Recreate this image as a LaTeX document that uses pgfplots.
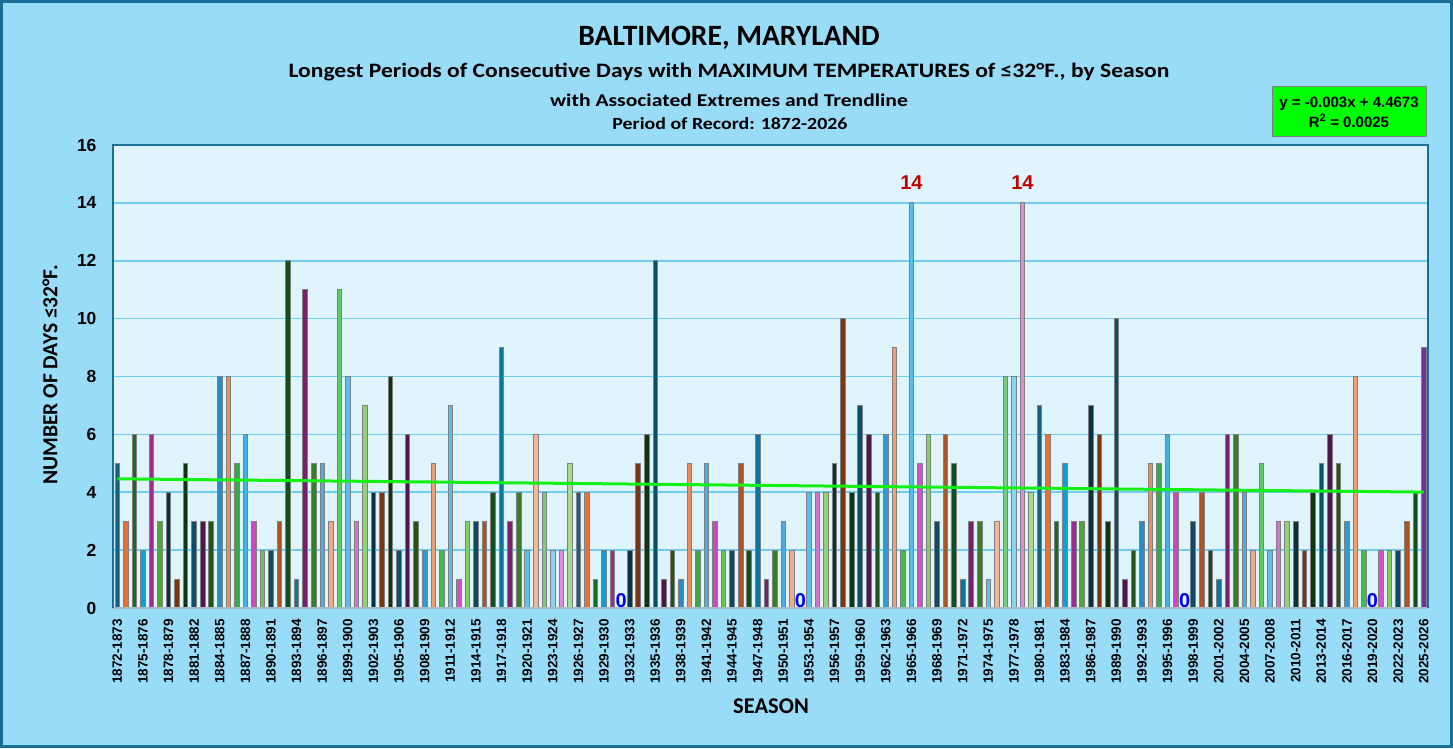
\documentclass[border=0pt]{standalone}
\usepackage{pgfplots}
\pgfplotsset{compat=1.18}
\usepackage{fontspec}
\setmainfont{Carlito}
\newfontfamily\arialb{Liberation Sans}
\newfontfamily\subA{Carlito}[FakeStretch=1.15]
\newfontfamily\subB{Carlito}[FakeStretch=1.2]
\newfontfamily\subC{Carlito}[FakeStretch=1.17]
\definecolor{outerbg}{HTML}{99DCF7}
\definecolor{plotbg}{HTML}{DFF4FC}
\definecolor{gridc}{HTML}{6DCDF2}
\definecolor{darkline}{HTML}{1A6E98}
\definecolor{botline}{HTML}{A9BCC6}
\definecolor{barline}{HTML}{808080}
\definecolor{trend}{HTML}{14F014}
\definecolor{eqgreen}{HTML}{00FF00}
\definecolor{lblred}{HTML}{C00000}
\definecolor{lastpurple}{HTML}{7030A0}
% base accents
\definecolor{a1}{HTML}{156082}\definecolor{a2}{HTML}{E97132}\definecolor{a3}{HTML}{196B24}
\definecolor{a4}{HTML}{0F9ED5}\definecolor{a5}{HTML}{A02B93}\definecolor{a6}{HTML}{4EA72E}
% darker 50
\definecolor{k1}{HTML}{0B3041}\definecolor{k2}{HTML}{7B3610}\definecolor{k3}{HTML}{0D3512}
\definecolor{k4}{HTML}{084F6A}\definecolor{k5}{HTML}{501549}\definecolor{k6}{HTML}{275317}
% darker 25
\definecolor{m1}{HTML}{104862}\definecolor{m2}{HTML}{AF5525}\definecolor{m3}{HTML}{134F1B}
\definecolor{m4}{HTML}{0B76A0}\definecolor{m5}{HTML}{78206E}\definecolor{m6}{HTML}{3A7D22}
% lighter variants
\definecolor{p1}{HTML}{2A8CC4}\definecolor{p2}{HTML}{EE8D55}\definecolor{p3}{HTML}{3AA846}
\definecolor{p4}{HTML}{3DB3E8}\definecolor{p5}{HTML}{C84BBE}\definecolor{p6}{HTML}{71C24B}
\definecolor{q1}{HTML}{4DABE2}\definecolor{q2}{HTML}{F2A987}\definecolor{q3}{HTML}{5FCB63}
\definecolor{q4}{HTML}{5DBDEB}\definecolor{q5}{HTML}{D573CC}\definecolor{q6}{HTML}{94D174}
\definecolor{r1}{HTML}{2F9BD3}\definecolor{r2}{HTML}{F0A070}\definecolor{r3}{HTML}{3EBF48}
\definecolor{r4}{HTML}{50C0F0}\definecolor{r5}{HTML}{D052C4}\definecolor{r6}{HTML}{84CF64}
\definecolor{s1}{HTML}{62C0EE}\definecolor{s2}{HTML}{F5B598}\definecolor{s3}{HTML}{78CF7A}
\definecolor{s4}{HTML}{88D4F2}\definecolor{s5}{HTML}{E08BD8}\definecolor{s6}{HTML}{A8DC8C}
\pgfplotsset{
  B/.style={ybar, bar shift=0pt, bar width=4.6pt, draw=barline, line width=0.8pt},
  hi/.style={nodes near coords={14}, every node near coord/.append style={font=\arialb\bfseries\fontsize{20}{20}\selectfont, text=lblred, anchor=south, yshift=10pt}},
  zero/.style={nodes near coords={0}, every node near coord/.append style={font=\arialb\bfseries\fontsize{20}{20}\selectfont, text=blue, anchor=south, yshift=-3pt}},
}
\begin{document}
\begin{tikzpicture}
\fill[outerbg] (0pt,0pt) rectangle (1453pt,748pt);
\draw[darkline, line width=3pt] (1.5pt,1.5pt) rectangle (1451.5pt,746.5pt);
\begin{axis}[
  at={(113pt,140pt)}, anchor=south west, scale only axis,
  width=1315pt, height=463pt,
  xmin=-0.5, xmax=153.5, ymin=0, ymax=16,
  ytick={0,2,...,16}, xtick={0,3,...,153},
  xticklabels={1872-1873,1875-1876,1878-1879,1881-1882,1884-1885,1887-1888,1890-1891,1893-1894,1896-1897,1899-1900,1902-1903,1905-1906,1908-1909,1911-1912,1914-1915,1917-1918,1920-1921,1923-1924,1926-1927,1929-1930,1932-1933,1935-1936,1938-1939,1941-1942,1944-1945,1947-1948,1950-1951,1953-1954,1956-1957,1959-1960,1962-1963,1965-1966,1968-1969,1971-1972,1974-1975,1977-1978,1980-1981,1983-1984,1986-1987,1989-1990,1992-1993,1995-1996,1998-1999,2001-2002,2004-2005,2007-2008,2010-2011,2013-2014,2016-2017,2019-2020,2022-2023,2025-2026},
  major tick length=0pt,
  ymajorgrids, grid style={draw=gridc, line width=1.6pt},
  axis line style={draw=none},
  axis background/.style={fill=plotbg},
  /pgf/number format/assume math mode=true,
  yticklabel style={font=\arialb\bfseries\fontsize{17.5}{17.5}\selectfont, xshift=-13pt},
  xticklabel style={font=\arialb\bfseries\fontsize{13.5}{13.5}\selectfont, rotate=90, anchor=east, xshift=-7.5pt},
  clip=false,
  cycle list={
    {fill=a1},{fill=a2},{fill=a3},{fill=a4},{fill=a5},{fill=a6},
    {fill=k1},{fill=k2},{fill=k3},{fill=k4},{fill=k5},{fill=k6},
    {fill=p1},{fill=p2},{fill=p3},{fill=p4},{fill=p5},{fill=p6},
    {fill=m1},{fill=m2},{fill=m3},{fill=m4},{fill=m5},{fill=m6},
    {fill=q1},{fill=q2},{fill=q3},{fill=q4},{fill=q5},{fill=q6},
    {fill=k1},{fill=k2},{fill=k3},{fill=k4},{fill=k5},{fill=k6},
    {fill=r1},{fill=r2},{fill=r3},{fill=r4},{fill=r5},{fill=r6},
    {fill=m1},{fill=m2},{fill=m3},{fill=m4},{fill=m5},{fill=m6},
    {fill=s1},{fill=s2},{fill=s3},{fill=s4},{fill=s5},{fill=s6}},
]
\addplot+[B] coordinates {(0,5)};
\addplot+[B] coordinates {(1,3)};
\addplot+[B] coordinates {(2,6)};
\addplot+[B] coordinates {(3,2)};
\addplot+[B] coordinates {(4,6)};
\addplot+[B] coordinates {(5,3)};
\addplot+[B] coordinates {(6,4)};
\addplot+[B] coordinates {(7,1)};
\addplot+[B] coordinates {(8,5)};
\addplot+[B] coordinates {(9,3)};
\addplot+[B] coordinates {(10,3)};
\addplot+[B] coordinates {(11,3)};
\addplot+[B] coordinates {(12,8)};
\addplot+[B] coordinates {(13,8)};
\addplot+[B] coordinates {(14,5)};
\addplot+[B] coordinates {(15,6)};
\addplot+[B] coordinates {(16,3)};
\addplot+[B] coordinates {(17,2)};
\addplot+[B] coordinates {(18,2)};
\addplot+[B] coordinates {(19,3)};
\addplot+[B] coordinates {(20,12)};
\addplot+[B] coordinates {(21,1)};
\addplot+[B] coordinates {(22,11)};
\addplot+[B] coordinates {(23,5)};
\addplot+[B] coordinates {(24,5)};
\addplot+[B] coordinates {(25,3)};
\addplot+[B] coordinates {(26,11)};
\addplot+[B] coordinates {(27,8)};
\addplot+[B] coordinates {(28,3)};
\addplot+[B] coordinates {(29,7)};
\addplot+[B] coordinates {(30,4)};
\addplot+[B] coordinates {(31,4)};
\addplot+[B] coordinates {(32,8)};
\addplot+[B] coordinates {(33,2)};
\addplot+[B] coordinates {(34,6)};
\addplot+[B] coordinates {(35,3)};
\addplot+[B] coordinates {(36,2)};
\addplot+[B] coordinates {(37,5)};
\addplot+[B] coordinates {(38,2)};
\addplot+[B] coordinates {(39,7)};
\addplot+[B] coordinates {(40,1)};
\addplot+[B] coordinates {(41,3)};
\addplot+[B] coordinates {(42,3)};
\addplot+[B] coordinates {(43,3)};
\addplot+[B] coordinates {(44,4)};
\addplot+[B] coordinates {(45,9)};
\addplot+[B] coordinates {(46,3)};
\addplot+[B] coordinates {(47,4)};
\addplot+[B] coordinates {(48,2)};
\addplot+[B] coordinates {(49,6)};
\addplot+[B] coordinates {(50,4)};
\addplot+[B] coordinates {(51,2)};
\addplot+[B] coordinates {(52,2)};
\addplot+[B] coordinates {(53,5)};
\addplot+[B] coordinates {(54,4)};
\addplot+[B] coordinates {(55,4)};
\addplot+[B] coordinates {(56,1)};
\addplot+[B] coordinates {(57,2)};
\addplot+[B] coordinates {(58,2)};
\addplot+[B, zero] coordinates {(59,0)};
\addplot+[B] coordinates {(60,2)};
\addplot+[B] coordinates {(61,5)};
\addplot+[B] coordinates {(62,6)};
\addplot+[B] coordinates {(63,12)};
\addplot+[B] coordinates {(64,1)};
\addplot+[B] coordinates {(65,2)};
\addplot+[B] coordinates {(66,1)};
\addplot+[B] coordinates {(67,5)};
\addplot+[B] coordinates {(68,2)};
\addplot+[B] coordinates {(69,5)};
\addplot+[B] coordinates {(70,3)};
\addplot+[B] coordinates {(71,2)};
\addplot+[B] coordinates {(72,2)};
\addplot+[B] coordinates {(73,5)};
\addplot+[B] coordinates {(74,2)};
\addplot+[B] coordinates {(75,6)};
\addplot+[B] coordinates {(76,1)};
\addplot+[B] coordinates {(77,2)};
\addplot+[B] coordinates {(78,3)};
\addplot+[B] coordinates {(79,2)};
\addplot+[B, zero] coordinates {(80,0)};
\addplot+[B] coordinates {(81,4)};
\addplot+[B] coordinates {(82,4)};
\addplot+[B] coordinates {(83,4)};
\addplot+[B] coordinates {(84,5)};
\addplot+[B] coordinates {(85,10)};
\addplot+[B] coordinates {(86,4)};
\addplot+[B] coordinates {(87,7)};
\addplot+[B] coordinates {(88,6)};
\addplot+[B] coordinates {(89,4)};
\addplot+[B] coordinates {(90,6)};
\addplot+[B] coordinates {(91,9)};
\addplot+[B] coordinates {(92,2)};
\addplot+[B, hi] coordinates {(93,14)};
\addplot+[B] coordinates {(94,5)};
\addplot+[B] coordinates {(95,6)};
\addplot+[B] coordinates {(96,3)};
\addplot+[B] coordinates {(97,6)};
\addplot+[B] coordinates {(98,5)};
\addplot+[B] coordinates {(99,1)};
\addplot+[B] coordinates {(100,3)};
\addplot+[B] coordinates {(101,3)};
\addplot+[B] coordinates {(102,1)};
\addplot+[B] coordinates {(103,3)};
\addplot+[B] coordinates {(104,8)};
\addplot+[B] coordinates {(105,8)};
\addplot+[B, hi] coordinates {(106,14)};
\addplot+[B] coordinates {(107,4)};
\addplot+[B] coordinates {(108,7)};
\addplot+[B] coordinates {(109,6)};
\addplot+[B] coordinates {(110,3)};
\addplot+[B] coordinates {(111,5)};
\addplot+[B] coordinates {(112,3)};
\addplot+[B] coordinates {(113,3)};
\addplot+[B] coordinates {(114,7)};
\addplot+[B] coordinates {(115,6)};
\addplot+[B] coordinates {(116,3)};
\addplot+[B] coordinates {(117,10)};
\addplot+[B] coordinates {(118,1)};
\addplot+[B] coordinates {(119,2)};
\addplot+[B] coordinates {(120,3)};
\addplot+[B] coordinates {(121,5)};
\addplot+[B] coordinates {(122,5)};
\addplot+[B] coordinates {(123,6)};
\addplot+[B] coordinates {(124,4)};
\addplot+[B, zero] coordinates {(125,0)};
\addplot+[B] coordinates {(126,3)};
\addplot+[B] coordinates {(127,4)};
\addplot+[B] coordinates {(128,2)};
\addplot+[B] coordinates {(129,1)};
\addplot+[B] coordinates {(130,6)};
\addplot+[B] coordinates {(131,6)};
\addplot+[B] coordinates {(132,4)};
\addplot+[B] coordinates {(133,2)};
\addplot+[B] coordinates {(134,5)};
\addplot+[B] coordinates {(135,2)};
\addplot+[B] coordinates {(136,3)};
\addplot+[B] coordinates {(137,3)};
\addplot+[B] coordinates {(138,3)};
\addplot+[B] coordinates {(139,2)};
\addplot+[B] coordinates {(140,4)};
\addplot+[B] coordinates {(141,5)};
\addplot+[B] coordinates {(142,6)};
\addplot+[B] coordinates {(143,5)};
\addplot+[B] coordinates {(144,3)};
\addplot+[B] coordinates {(145,8)};
\addplot+[B] coordinates {(146,2)};
\addplot+[B, zero] coordinates {(147,0)};
\addplot+[B] coordinates {(148,2)};
\addplot+[B] coordinates {(149,2)};
\addplot+[B] coordinates {(150,2)};
\addplot+[B] coordinates {(151,3)};
\addplot+[B] coordinates {(152,4)};
\addplot+[B, fill=lastpurple] coordinates {(153,9)};
% trendline y = -0.003x + 4.4673 (x = 1..154)
\addplot[trend, line width=3pt, no marks] coordinates {(0,4.4643) (153,4.0053)};
\end{axis}
\draw[botline, line width=1.5pt] (113pt,140pt) -- (1428pt,140pt);
\draw[darkline, line width=2.5pt] (113pt,140pt) -- (113pt,603pt) -- (1428pt,603pt) -- (1428pt,140pt);
\node[font=\bfseries\fontsize{29.5}{30}\selectfont] at (729pt,710pt) {BALTIMORE, MARYLAND};
\node[font=\subA\bfseries\fontsize{20.5}{21}\selectfont] at (729pt,676pt) {Longest Periods of Consecutive Days with MAXIMUM TEMPERATURES of ≤32°F., by Season};
\node[font=\subB\bfseries\fontsize{18}{19}\selectfont] at (729pt,648pt) {with Associated Extremes and Trendline};
\node[font=\subC\bfseries\fontsize{17}{18}\selectfont] at (730pt,624pt) {Period of Record: 1872-2026};
\node[fill=eqgreen, draw=barline, line width=1pt, minimum width=154pt, minimum height=50pt, align=center, inner sep=0pt, font=\arialb\bfseries\fontsize{15}{20}\selectfont] at (1349pt,636pt) {y = -0.003x + 4.4673\\R\textsuperscript{2} = 0.0025};
\node[rotate=90, font=\bfseries\fontsize{21.5}{22}\selectfont] at (50pt,373pt) {NUMBER OF DAYS ≤32°F.};
\node[font=\bfseries\fontsize{22.5}{23}\selectfont] at (771pt,42pt) {SEASON};
\end{tikzpicture}
\end{document}
